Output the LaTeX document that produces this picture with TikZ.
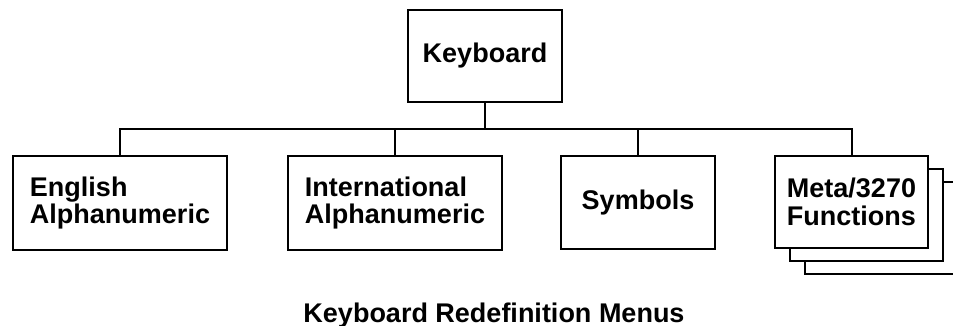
\documentclass[tikz,border=0pt]{standalone}
\usepackage{fontspec}
\setmainfont{Liberation Sans}
\begin{document}
\begin{tikzpicture}[x=1pt,y=-1pt,
  line width=2pt,
  menubox/.style={draw, fill=white, inner sep=0pt, align=left,
    font=\bfseries\fontsize{27}{27.5}\selectfont},
  wide/.style={menubox, minimum width=214pt, minimum height=93pt},
  narrow/.style={menubox, minimum width=154pt, minimum height=93pt}]
\useasboundingbox (0,0) rectangle (953,326);
\clip (0,0) rectangle (953,326);

% root of the menu tree
\node[narrow, minimum height=92pt] (kb) at (485,56) {Keyboard};

% first level menus
\node[wide] (eng) at (120,203) {English\\Alphanumeric};
\node[wide] (intl) at (395,203) {International\\Alphanumeric};
\node[narrow] (sym) at (638,202.5) {Symbols};

% stacked pages behind the function menu
\node[narrow, minimum width=153pt, minimum height=92pt] (meta3) at (881.5,228) {};
\node[narrow, minimum width=153pt, minimum height=92pt] (meta2) at (866.5,215) {};
\node[narrow, minimum width=153pt, minimum height=92pt] (meta) at (851.5,202) {Meta/3270\\Functions};

% connecting bus
\coordinate (busy) at (0,129);
\draw (eng.north) -- (eng.north |- busy) -- (meta.north |- busy) -- (meta.north);
\draw (intl.north) -- (intl.north |- busy);
\draw (sym.north) -- (sym.north |- busy);
\draw (kb.south) -- (kb.south |- busy);

% caption
\node[anchor=base, inner sep=0pt, font=\bfseries\fontsize{27}{27.5}\selectfont]
  (caption) at (494,322) {Keyboard Redefinition Menus};
\end{tikzpicture}
\end{document}
